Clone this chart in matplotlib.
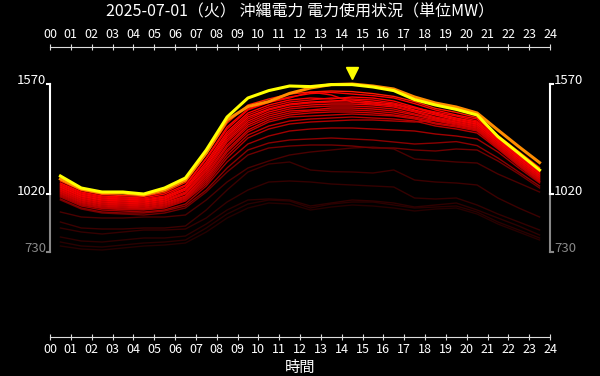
import matplotlib
matplotlib.use("Agg")
import matplotlib.pyplot as plt

plt.rcParams['font.family'] = ['Noto Sans CJK JP', 'DejaVu Sans']

title = "2025-07-01（火） 沖縄電力 電力使用状況（単位MW）"
hour_labels = ["%02d" % h for h in range(25)]
hours = [0.5, 1.5, 2.5, 3.5, 4.5, 5.5, 6.5, 7.5, 8.5, 9.5, 10.5, 11.5,
         12.5, 13.5, 14.5, 15.5, 16.5, 17.5, 18.5, 19.5, 20.5, 21.5, 22.5, 23.5]

y_ticks = [1570, 1020, 730]
peak_hour = 14.5
peak_mark = 1625

# today (yellow) and previous day (orange)
today = [1110, 1050, 1030, 1030, 1020, 1050, 1100, 1240, 1405, 1500, 1537, 1560,
         1557, 1567, 1567, 1555, 1537, 1492, 1465, 1443, 1415, 1307, 1224, 1140]
yesterday = [1095, 1045, 1025, 1025, 1015, 1040, 1090, 1225, 1390, 1457, 1482, 1523,
             1550, 1567, 1570, 1560, 1545, 1505, 1475, 1455, 1425, 1340, 1257, 1177]

# recent days (bright red band)
recent_days = [
    [1085, 1038, 1018, 1012, 1008, 1028, 1078, 1220, 1375, 1465, 1495, 1520, 1530, 1535, 1532, 1522, 1508, 1482, 1448, 1428, 1402, 1312, 1232, 1152],
    [1075, 1030, 1010, 1005, 1000, 1020, 1065, 1200, 1355, 1445, 1480, 1505, 1522, 1528, 1520, 1512, 1500, 1472, 1440, 1415, 1395, 1305, 1220, 1140],
    [1070, 1025, 1005, 1000, 995, 1010, 1060, 1195, 1345, 1440, 1478, 1500, 1530, 1515, 1480, 1470, 1465, 1450, 1430, 1410, 1385, 1300, 1215, 1135],
    [1065, 1020, 1000, 995, 990, 1005, 1050, 1180, 1330, 1425, 1465, 1490, 1500, 1495, 1505, 1500, 1485, 1455, 1425, 1400, 1380, 1295, 1210, 1130],
    [1060, 1015, 995, 990, 985, 1000, 1045, 1170, 1320, 1415, 1455, 1480, 1490, 1500, 1495, 1490, 1475, 1450, 1420, 1395, 1375, 1290, 1205, 1125],
    [1055, 1010, 990, 985, 980, 995, 1040, 1160, 1310, 1405, 1445, 1470, 1480, 1485, 1490, 1480, 1470, 1440, 1415, 1390, 1370, 1285, 1200, 1120],
    [1050, 1005, 985, 980, 975, 990, 1030, 1150, 1300, 1395, 1440, 1465, 1475, 1480, 1480, 1475, 1460, 1435, 1405, 1385, 1365, 1280, 1195, 1115],
    [1045, 1000, 980, 975, 970, 985, 1025, 1140, 1290, 1385, 1430, 1455, 1465, 1470, 1470, 1465, 1455, 1430, 1400, 1380, 1360, 1275, 1190, 1110],
    [1040, 995, 975, 970, 965, 980, 1020, 1130, 1280, 1375, 1420, 1445, 1455, 1460, 1460, 1455, 1445, 1420, 1395, 1375, 1355, 1270, 1185, 1105],
    [1035, 990, 970, 965, 960, 975, 1010, 1120, 1265, 1365, 1410, 1435, 1440, 1450, 1450, 1445, 1435, 1415, 1390, 1370, 1350, 1265, 1180, 1100],
    [1030, 985, 965, 960, 955, 970, 1005, 1110, 1255, 1355, 1400, 1425, 1435, 1440, 1440, 1435, 1425, 1405, 1385, 1365, 1345, 1260, 1175, 1095],
    [1025, 980, 960, 955, 950, 965, 1000, 1100, 1240, 1340, 1390, 1415, 1425, 1430, 1430, 1425, 1415, 1400, 1375, 1360, 1340, 1255, 1170, 1090],
    [1020, 975, 955, 950, 945, 960, 995, 1090, 1230, 1330, 1380, 1405, 1410, 1415, 1420, 1415, 1410, 1395, 1370, 1355, 1335, 1250, 1165, 1085],
    [1015, 970, 950, 945, 945, 955, 990, 1080, 1215, 1315, 1360, 1385, 1395, 1400, 1405, 1400, 1395, 1385, 1360, 1345, 1325, 1245, 1160, 1080],
    [1010, 965, 948, 942, 940, 950, 985, 1070, 1200, 1300, 1345, 1370, 1380, 1385, 1390, 1390, 1385, 1380, 1390, 1375, 1340, 1255, 1165, 1082],
]
recent_colors = ["#ff1a00", "#ff0000", "#ee0000", "#ff0000", "#e80000", "#ff0000", "#dd0000",
                 "#f00000", "#d80000", "#e00000", "#cc0000", "#d00000", "#c00000", "#b80000", "#b00000"]

# older days (dim red)
older_days = [
    [1005, 960, 940, 935, 930, 940, 970, 1060, 1180, 1270, 1310, 1335, 1345, 1350, 1350, 1345, 1340, 1335, 1320, 1310, 1295, 1230, 1150, 1075],
    [995, 950, 930, 925, 925, 935, 960, 1040, 1150, 1240, 1275, 1290, 1295, 1300, 1295, 1290, 1280, 1270, 1275, 1282, 1262, 1200, 1130, 1060],
    [990, 945, 925, 920, 915, 925, 950, 1030, 1130, 1215, 1250, 1260, 1265, 1265, 1260, 1250, 1250, 1240, 1235, 1245, 1240, 1185, 1120, 1050],
    [930, 905, 900, 900, 905, 905, 915, 990, 1080, 1150, 1185, 1215, 1230, 1240, 1250, 1255, 1245, 1195, 1188, 1180, 1175, 1120, 1075, 1030],
    [880, 850, 845, 845, 850, 850, 860, 940, 1040, 1130, 1170, 1180, 1140, 1132, 1130, 1125, 1140, 1090, 1080, 1075, 1065, 1000, 950, 905],
    [850, 830, 820, 830, 840, 840, 845, 900, 980, 1040, 1080, 1085, 1080, 1070, 1065, 1060, 1055, 1000, 995, 1000, 965, 920, 880, 840],
    [805, 785, 780, 790, 800, 800, 810, 870, 940, 990, 995, 990, 960, 975, 990, 985, 975, 955, 965, 975, 940, 900, 860, 815],
    [780, 760, 755, 765, 775, 780, 790, 850, 920, 970, 990, 985, 950, 970, 980, 980, 965, 950, 955, 960, 930, 880, 840, 800],
    [760, 745, 740, 750, 760, 765, 775, 830, 900, 950, 975, 970, 940, 955, 965, 960, 950, 935, 945, 950, 920, 870, 830, 790],
]
older_colors = ["#a00000", "#8a0000", "#700000", "#4a0000", "#3c0000",
                "#340000", "#2e0000", "#2a0000", "#260000"]

fig = plt.figure(figsize=(6, 3.76), dpi=100, facecolor="black")
ax = fig.add_axes([50 / 600, 39 / 376, 500 / 600, 290 / 376])
ax.set_facecolor("black")

for values, color in zip(reversed(older_days), reversed(older_colors)):
    ax.plot(hours, values, color=color, lw=1.0)
for values, color in zip(reversed(recent_days), reversed(recent_colors)):
    ax.plot(hours, values, color=color, lw=1.0)
ax.plot(hours, yesterday, color="#ff8c00", lw=2.2)
ax.plot(hours, today, color="#ffff00", lw=2.2)
ax.plot([peak_hour], [peak_mark], marker="v", color="#ffff00", markersize=8, clip_on=False)

ax.set_xlim(0, 24)
ax.set_ylim(305, 1755)

# x axes at top and bottom
for side in ["left", "right"]:
    ax.spines[side].set_visible(False)
for side in ["top", "bottom"]:
    ax.spines[side].set_color("#dddddd")
ax.set_xticks(range(25))
ax.set_xticklabels(hour_labels)
ax.tick_params(axis="x", top=True, labeltop=True, colors="#dddddd", labelcolor="white",
               direction="inout", length=4, labelsize=9, pad=2)
ax.set_yticks([])

# y axes drawn as brackets on both sides
for x0, sign, ha in [(0, -1, "right"), (24, 1, "left")]:
    ax.plot([x0, x0], [1020, 1570], color="white", lw=1.5, clip_on=False)
    ax.plot([x0, x0], [730, 1020], color="#888888", lw=1.5, clip_on=False)
    for v in y_ticks:
        col = "white" if v > 730 else "#888888"
        ax.plot([x0, x0 + sign * 0.15], [v, v], color=col, lw=1.5, clip_on=False)
        ax.text(x0 + sign * 0.2, v + 15, str(v), color=col, ha=ha, va="center",
                fontsize=9.5, clip_on=False)

fig.text(0.5, 1 - 12 / 376, title, color="white", ha="center", va="center", fontsize=11.5)
fig.text(0.5, 1 - 367 / 376, "時間", color="white", ha="center", va="center", fontsize=11)

fig.savefig("out.png", dpi=100, facecolor="black")
